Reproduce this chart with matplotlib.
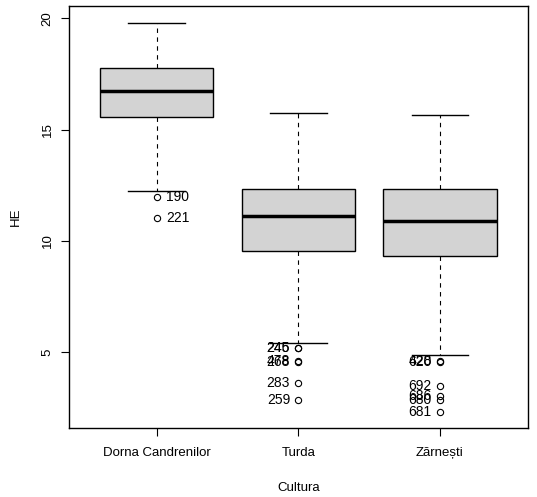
import matplotlib
matplotlib.use('Agg')
import matplotlib.pyplot as plt

plt.rcParams['font.family'] = ['Liberation Sans', 'DejaVu Sans']

# box summary per group
groups = ['Dorna Candrenilor', 'Turda', 'Zărnești']
whis_lo = [12.26, 5.43, 4.85]
q1 = [15.55, 9.55, 9.31]
medians = [16.74, 11.11, 10.90]
q3 = [17.75, 12.33, 12.33]
whis_hi = [19.80, 15.76, 15.66]

# outliers (value, row label) per group
out_vals = [
    [11.96, 11.02],
    [5.18, 5.18, 4.62, 4.55, 3.59, 2.83],
    [4.60, 4.55, 3.49, 3.01, 2.86, 2.29],
]
out_labels = [
    ['190', '221'],
    ['245', '246', '478', '268', '283', '259'],
    ['428', '620', '692', '686', '680', '681'],
]
label_side = ['right', 'left', 'left']

fig = plt.figure(figsize=(5.37, 4.97), dpi=100)
ax = fig.add_axes([69 / 537, 69 / 497, 458.7 / 537, 422 / 497])

stats = []
for i, g in enumerate(groups):
    stats.append(dict(label=g, whislo=whis_lo[i], q1=q1[i], med=medians[i],
                      q3=q3[i], whishi=whis_hi[i], fliers=out_vals[i]))

ax.bxp(stats, positions=[1, 2, 3], widths=0.8, patch_artist=True,
       boxprops=dict(facecolor='#D3D3D3', edgecolor='black', linewidth=1.0),
       medianprops=dict(color='black', linewidth=2.5, solid_capstyle='butt'),
       whiskerprops=dict(color='black', linewidth=0.8, linestyle=(0, (4, 4))),
       capprops=dict(color='black', linewidth=1.0),
       flierprops=dict(marker='o', markersize=4.5, markerfacecolor='none',
                       markeredgecolor='black', markeredgewidth=0.8))

for i in range(len(groups)):
    for v, lab in zip(out_vals[i], out_labels[i]):
        if label_side[i] == 'right':
            ax.annotate(lab, (i + 1, v), xytext=(7, 0), textcoords='offset points',
                        ha='left', va='center', fontsize=10)
        else:
            ax.annotate(lab, (i + 1, v), xytext=(-6, 0), textcoords='offset points',
                        ha='right', va='center', fontsize=10)

ax.set_xlim(0.38, 3.62)
ax.set_ylim(1.59, 20.55)
ax.set_yticks([5, 10, 15, 20])
ax.set_xticks([1, 2, 3])
ax.set_xticklabels(groups)
ax.tick_params(axis='y', labelrotation=90, labelsize=9.5, length=6, pad=5)
ax.tick_params(axis='x', labelsize=9.5, length=6, pad=8)
for lab in ax.get_yticklabels():
    lab.set_va('center')
for s in ax.spines.values():
    s.set_linewidth(1.0)

ax.set_xlabel('Cultura', fontsize=9.5, labelpad=16)
ax.set_ylabel('HE', fontsize=9.5, labelpad=14)

fig.savefig('out.png', dpi=100)
